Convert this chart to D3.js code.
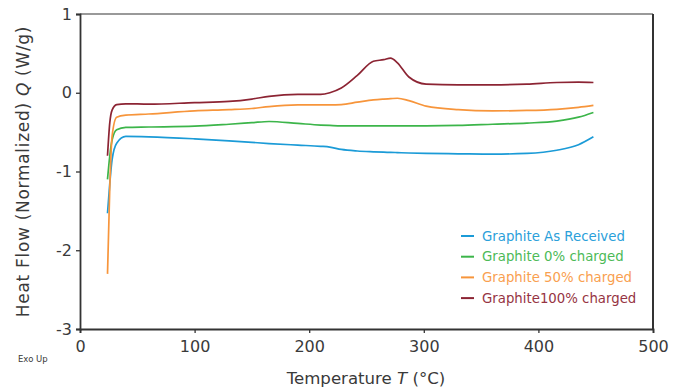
<!DOCTYPE html>
<html>
<head>
<meta charset="utf-8">
<script src="https://cdn.jsdelivr.net/npm/d3@7"></script>
<style>
    body { margin: 0; background: #fff; }
    text { font-family: "DejaVu Sans", sans-serif; fill: #3a3a3a; }
</style>
</head>
<body>
<div id="chart"></div>
<script>
var temps = [24, 26, 28, 32, 40, 60, 100, 130, 150, 165, 190, 210, 218, 228, 242, 256, 265, 271, 277, 287, 302, 330, 360, 390, 416, 435, 448];

var qAsReceived = [-1.53, -1.15, -0.85, -0.64, -0.555, -0.56, -0.585, -0.61, -0.63, -0.645, -0.665, -0.68, -0.69, -0.72, -0.74, -0.75, -0.755, -0.757, -0.76, -0.765, -0.77, -0.775, -0.78, -0.77, -0.73, -0.66, -0.56];
var q0 = [-1.1, -0.8, -0.6, -0.47, -0.44, -0.435, -0.425, -0.40, -0.38, -0.365, -0.39, -0.41, -0.415, -0.42, -0.42, -0.42, -0.42, -0.42, -0.42, -0.42, -0.42, -0.415, -0.40, -0.385, -0.36, -0.31, -0.25];
var q50 = [-2.3, -1.2, -0.55, -0.31, -0.285, -0.27, -0.23, -0.215, -0.20, -0.175, -0.155, -0.155, -0.155, -0.15, -0.12, -0.09, -0.08, -0.075, -0.07, -0.10, -0.17, -0.215, -0.23, -0.225, -0.21, -0.185, -0.16];
var q100 = [-0.80, -0.38, -0.22, -0.15, -0.14, -0.145, -0.125, -0.11, -0.08, -0.045, -0.02, -0.02, 0.0, 0.06, 0.22, 0.40, 0.42, 0.44, 0.38, 0.20, 0.11, 0.10, 0.10, 0.11, 0.13, 0.135, 0.13];

var seriesNames = ["Graphite As Received", "Graphite 0% charged", "Graphite 50% charged", "Graphite100% charged"];
var seriesColors = ["#1b9bd7", "#3cb54a", "#f7953b", "#8c2433"];
var legendColors = ["#2aa0da", "#4cba57", "#f9a04f", "#963443"];

var xTicks = [0, 100, 200, 300, 400, 500];
var yTicks = [1, 0, -1, -2, -3];

var width = 683, height = 390;
var margin = { top: 14, right: 30, bottom: 61, left: 80 };

var svg = d3.select("#chart").append("svg")
    .attr("width", width)
    .attr("height", height);

var x = d3.scaleLinear().domain([0, 500]).range([margin.left, width - margin.right]);
var y = d3.scaleLinear().domain([-3, 1]).range([height - margin.bottom, margin.top]);

// frame: top lighter, right darker
svg.append("line")
    .attr("x1", x(0)).attr("x2", x(500))
    .attr("y1", y(1)).attr("y2", y(1))
    .attr("stroke", "#777").attr("stroke-width", 1.5);
svg.append("line")
    .attr("x1", x(500)).attr("x2", x(500))
    .attr("y1", y(1)).attr("y2", y(-3))
    .attr("stroke", "#333").attr("stroke-width", 2);

var plain = function (d) { return String(d); };

var xAxis = svg.append("g")
    .attr("transform", "translate(0," + y(-3) + ")")
    .call(d3.axisBottom(x).tickValues(xTicks).tickFormat(plain).tickSize(4).tickPadding(8));
var yAxis = svg.append("g")
    .attr("transform", "translate(" + x(0) + ",0)")
    .call(d3.axisLeft(y).tickValues(yTicks).tickFormat(plain).tickSize(4).tickPadding(4));

[xAxis, yAxis].forEach(function (a) {
    a.select(".domain").attr("stroke", "#333").attr("stroke-width", 1.8);
    a.selectAll(".tick line").attr("stroke", "#333").attr("stroke-width", 1.3);
    a.selectAll(".tick text").style("font-size", "16px").style("font-family", "'DejaVu Sans', sans-serif").attr("fill", "#3a3a3a");
});

var allSeries = [qAsReceived, q0, q50, q100];
var line = d3.line()
    .x(function (d, i) { return x(temps[i]); })
    .y(function (d) { return y(d); })
    .curve(d3.curveMonotoneX);

svg.selectAll(".curve")
    .data(allSeries)
    .enter().append("path")
    .attr("class", "curve")
    .attr("fill", "none")
    .attr("stroke", function (d, i) { return seriesColors[i]; })
    .attr("stroke-width", 1.7)
    .attr("d", line);

// legend
var legend = svg.selectAll(".legend")
    .data(seriesNames)
    .enter().append("g")
    .attr("class", "legend")
    .attr("transform", function (d, i) { return "translate(461," + (236 + i * 20.7) + ")"; });
legend.append("line")
    .attr("x1", 0).attr("x2", 13)
    .attr("stroke", function (d, i) { return seriesColors[i]; })
    .attr("stroke-width", 2);
legend.append("text")
    .attr("x", 21).attr("dy", "0.35em")
    .style("font-size", "13.3px")
    .style("fill", function (d, i) { return legendColors[i]; })
    .text(function (d) { return d; });

// axis titles
svg.append("text")
    .attr("transform", "translate(29," + ((y(1) + y(-3)) / 2) + ") rotate(-90)")
    .attr("text-anchor", "middle")
    .style("font-size", "17px")
    .style("letter-spacing", "0.7px")
    .html('Heat Flow (Normalized) <tspan font-style="italic">Q</tspan> (W/g)');

svg.append("text")
    .attr("x", 366).attr("y", 384)
    .attr("text-anchor", "middle")
    .style("font-size", "16.6px")
    .html('Temperature <tspan font-style="italic">T</tspan> (°C)');

svg.append("text")
    .attr("x", 18).attr("y", 362)
    .style("font-size", "8.5px")
    .text("Exo Up");
</script>
</body>
</html>
